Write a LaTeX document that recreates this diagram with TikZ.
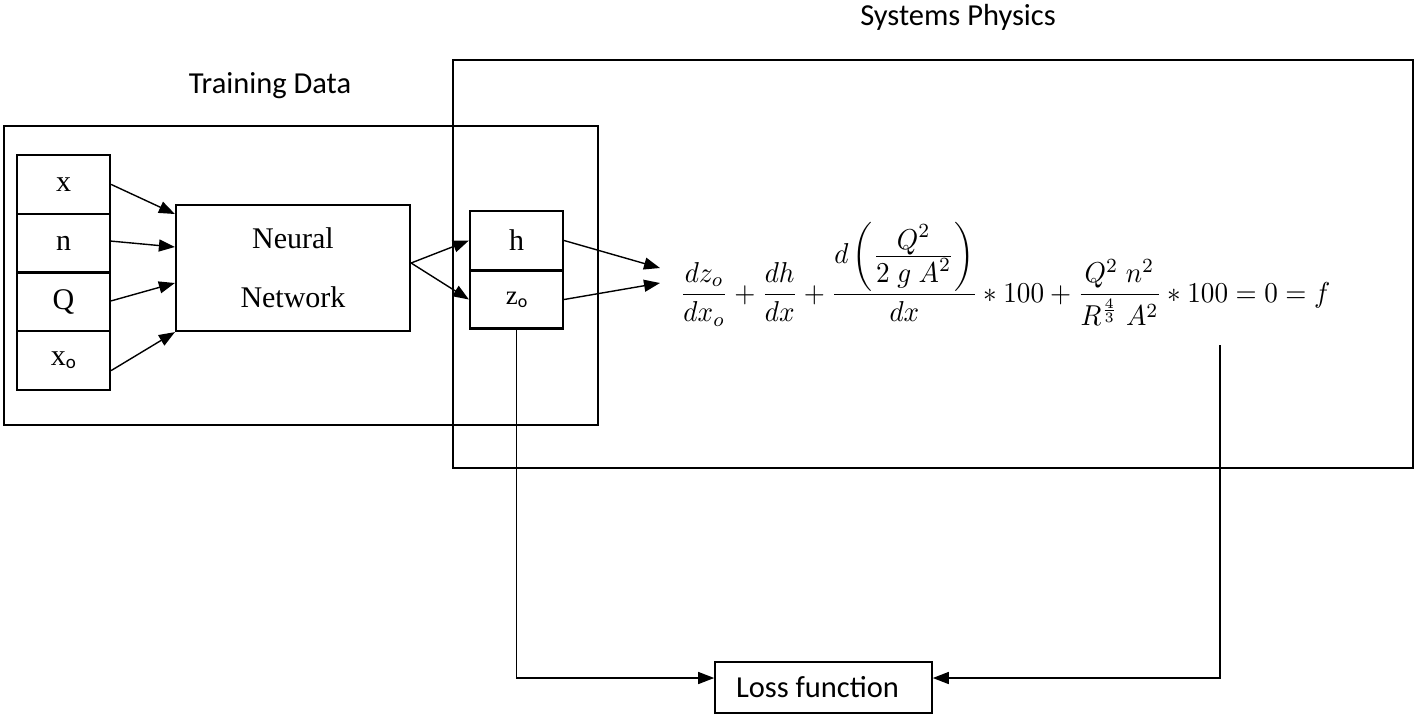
\documentclass[tikz,border=0pt]{standalone}
\usepackage{fontspec}
\usepackage{amsmath}
\setmainfont{Liberation Serif}
\newfontfamily\calib{Carlito}
\usetikzlibrary{arrows.meta}
\begin{document}
\begin{tikzpicture}[x=1pt,y=-1pt,
  frame/.style={draw, line width=2.2pt, inner sep=0pt},
  cell/.style={draw, line width=2.2pt, minimum width=93pt, minimum height=58.75pt, inner sep=0pt, font=\fontsize{30}{34}\selectfont},
  conn/.style={line width=1.4pt, -{Triangle[length=16pt,width=12pt]}},
  wire/.style={line width=1.4pt},
  lbl/.style={font=\calib\fontsize{30.5}{34}\selectfont, inner sep=0pt}]
\useasboundingbox (0,0) rectangle (1419,716);
% outer frames
\node[frame, minimum width=594pt, minimum height=299pt] (train) at (301,275.5) {};
\node[frame, minimum width=960pt, minimum height=408pt] (sys) at (933,264) {};
\node[lbl] (trainlbl) at (270,86) {Training Data};
\node[lbl] (syslbl) at (958,17) {Systems Physics};
% inputs
\node[cell] (in1) at (63.5,184.4) {x};
\node[cell] (in2) at (63.5,243.1) {n};
\node[cell] (in3) at (63.5,301.9) {Q};
\node[cell] (in4) at (63.5,360.6) {x\raisebox{-3pt}{\calib\fontsize{19}{19}\selectfont o}};
% neural network
\node[frame, minimum width=234pt, minimum height=126pt, align=center, font=\fontsize{30}{59}\selectfont] (nn) at (293,268) {Neural\\Network};
% outputs
\node[cell, minimum height=59pt] (hb) at (516.5,240.5) {h};
\node[cell, minimum height=58pt] (zb) at (516.5,299.5) {\fontsize{27}{30}\selectfont z\raisebox{-3pt}{\calib\fontsize{18}{18}\selectfont o}};
% equation
\node[inner sep=0pt, anchor=west] (eq) at (680,274) {\scalebox{1}[1.06]{\resizebox{650pt}{!}{$\displaystyle \frac{dz_o}{dx_o}+\frac{dh}{dx}+\frac{d\left(\frac{\displaystyle Q^2}{\displaystyle 2\;g\;A^2}\right)}{dx}\ast 100+\frac{Q^2\;n^2}{R^{\frac{4}{3}}\;A^2}\ast 100=0=f$}}};
\coordinate (eqa) at (660,268);
\coordinate (eqb) at (660,283);
\coordinate (eqout) at (1220,345);
% loss
\node[draw, line width=1.6pt, minimum width=217pt, minimum height=51pt, inner sep=0pt, font=\calib\fontsize{30.5}{34}\selectfont] (loss) at (823.5,687.5) {\hspace*{-12pt}Loss function};
% connectors
\draw[conn] (in1.east) -- ([yshift=54pt]nn.west);
\draw[conn] ([yshift=2pt]in2.east) -- ([yshift=21pt]nn.west);
\draw[conn] ([yshift=1pt]in3.east) -- ([yshift=-15pt]nn.west);
\draw[conn] ([yshift=-10pt]in4.east) -- (nn.south west);
\draw[conn] ([yshift=5pt]nn.east) -- (hb.west);
\draw[conn] ([yshift=5pt]nn.east) -- (zb.west);
\draw[conn] (hb.east) -- (eqa);
\draw[conn] (zb.east) -- (eqb);
\draw[wire, -{Triangle[length=16pt,width=12pt]}] (zb.south) |- ([yshift=9.5pt]loss.west);
\draw[wire, -{Triangle[length=16pt,width=12pt]}] (eqout) |- ([yshift=9.5pt]loss.east);
\end{tikzpicture}
\end{document}
